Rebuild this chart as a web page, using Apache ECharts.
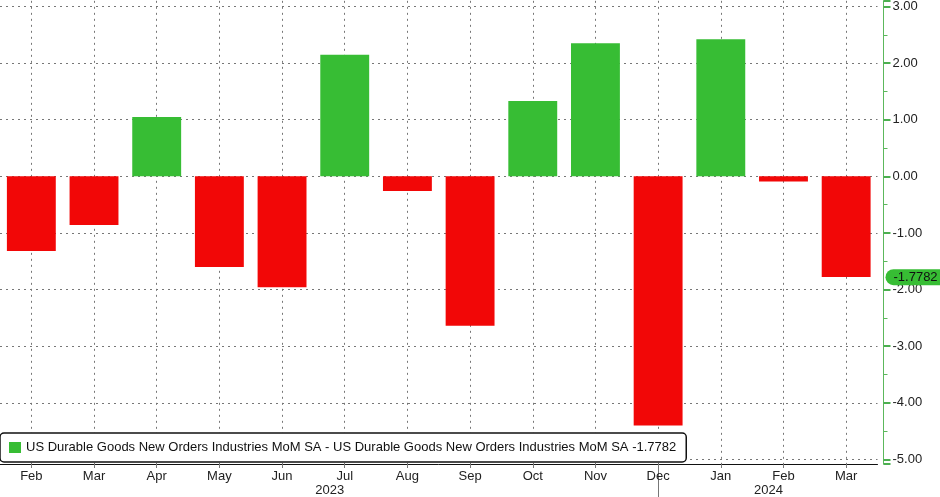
<!DOCTYPE html>
<html>
<head>
<meta charset="utf-8">
<script src="https://cdn.jsdelivr.net/npm/echarts@6/dist/echarts.min.js"></script>
<style>
  html, body { margin: 0; padding: 0; background: #fff; }
  #chart { width: 940px; height: 497px; }
</style>
</head>
<body>
<div id="chart"></div>
<script>
// months Feb 2023 .. Mar 2024
var months = ['Feb', 'Mar', 'Apr', 'May', 'Jun', 'Jul', 'Aug', 'Sep', 'Oct', 'Nov', 'Dec', 'Jan', 'Feb', 'Mar'];
var yearLabels = ['', '', '', '', '', '2023', '', '', '', '', '', '', '2024', ''];
var momValues = [-1.32, -0.86, 1.05, -1.60, -1.96, 2.15, -0.26, -2.64, 1.33, 2.35, -4.40, 2.42, -0.09, -1.7782];
var lastValue = -1.7782;
var seriesName = 'US Durable Goods New Orders Industries MoM SA - US Durable Goods New Orders Industries MoM SA -1.7782';

var GREEN = '#37bd34';
var RED = '#f20707';
var FONT = 'Liberation Sans, Arial, sans-serif';

var chart = echarts.init(document.getElementById('chart'));

var barData = momValues.map(function (v) {
    if (v < 0) {
        return {value: v, itemStyle: {color: RED}};
    }
    return v;
});

var option = {
    animation: false,
    backgroundColor: '#fff',
    textStyle: {fontFamily: FONT},
    grid: {left: -1.5, right: 62.5, top: 0, bottom: 33, containLabel: false},
    legend: {
        show: true,
        left: 0,
        top: 433,
        padding: [8, 10, 8, 9],
        itemWidth: 12,
        itemHeight: 11,
        icon: 'rect',
        backgroundColor: '#fff',
        borderColor: '#111',
        borderWidth: 1.5,
        borderRadius: 4,
        textStyle: {fontSize: 13, color: '#111', fontFamily: FONT},
        data: [seriesName]
    },
    xAxis: [{
        type: 'category',
        data: months,
        position: 'bottom',
        axisLine: {show: true, onZero: false, lineStyle: {color: '#111', width: 1}},
        axisTick: {show: true, alignWithLabel: true, length: 4, lineStyle: {color: '#777'}},
        axisLabel: {color: '#222', fontSize: 13, margin: 6, interval: 0, fontFamily: FONT},
        splitLine: {show: true, alignWithLabel: true, lineStyle: {color: '#777', type: [2, 4], width: 1}}
    }, {
        type: 'category',
        data: months,
        position: 'bottom',
        axisLine: {show: false, onZero: false},
        axisTick: {
            show: true,
            alignWithLabel: true,
            length: 33,
            interval: function (idx) { return idx === 10; },
            lineStyle: {color: '#777'}
        },
        axisLabel: {
            color: '#222', fontSize: 13, margin: 20, interval: 0, fontFamily: FONT,
            padding: [0, 30, 0, 0],
            formatter: function (val, idx) { return yearLabels[idx]; }
        },
        splitLine: {show: false}
    }],
    yAxis: {
        type: 'value',
        position: 'right',
        offset: 6,
        min: -5.08,
        max: 3.1,
        splitNumber: 8,
        axisLine: {show: true, lineStyle: {color: '#5cb85c', width: 1}},
        axisTick: {show: true, length: 7, lineStyle: {color: '#4caf50', width: 2}},
        minorTick: {show: true, splitNumber: 2, length: 4, lineStyle: {color: '#5cb85c'}},
        axisLabel: {
            color: '#222', fontSize: 13, margin: 9, fontFamily: FONT,
            showMinLabel: false, showMaxLabel: false,
            formatter: function (v) { return v.toFixed(2); }
        },
        splitLine: {
            show: true, showMinLine: false, showMaxLine: false,
            lineStyle: {color: '#777', type: [2, 4], width: 1}
        }
    },
    series: [{
        name: seriesName,
        type: 'bar',
        xAxisIndex: 0,
        data: barData,
        barCategoryGap: '22%',
        itemStyle: {color: GREEN},
        markLine: {
            silent: true,
            symbol: ['none', 'none'],
            lineStyle: {color: 'rgba(0,0,0,0)', width: 0},
            label: {
                show: true,
                position: 'end',
                distance: 8,
                formatter: function () { return lastValue.toFixed(4); },
                backgroundColor: GREEN,
                color: '#111',
                fontSize: 13,
                fontFamily: FONT,
                padding: [2, 6, 1, 8],
                borderRadius: [8, 0, 0, 8]
            },
            data: [{yAxis: lastValue}]
        }
    }]
};

chart.setOption(option);
</script>
</body>
</html>
